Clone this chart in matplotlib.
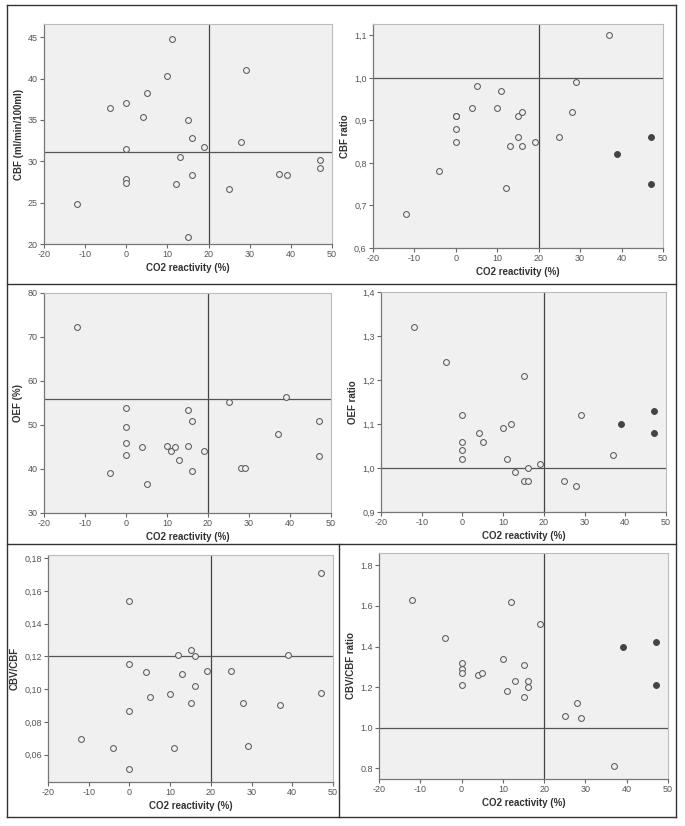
import numpy as np
import matplotlib
matplotlib.use("Agg")
from matplotlib import pyplot as plt
from matplotlib.lines import Line2D
from matplotlib.ticker import FuncFormatter

# CO2 reactivity (%) per subject, same order in every panel
co2 = [-12, -4, 0, 0, 0, 0, 4, 5, 10, 11, 12, 13, 15, 15, 16, 16, 19, 25, 28, 29, 37, 39, 47, 47]
# subjects drawn as filled dots in the ratio panels
filled = [False] * 21 + [True, True, True]

cbf = [24.8, 36.4, 37.1, 31.5, 27.9, 27.4, 35.3, 38.2, 40.3, 44.8, 27.2, 30.5,
       35.0, 20.9, 32.8, 28.4, 31.7, 26.7, 32.3, 41.0, 28.5, 28.3, 30.1, 29.2]
cbf_ratio = [0.68, 0.78, 0.91, 0.91, 0.88, 0.85, 0.93, 0.98, 0.93, 0.97, 0.74, 0.84,
             0.91, 0.86, 0.92, 0.84, 0.85, 0.86, 0.92, 0.99, 1.10, 0.82, 0.86, 0.75]
oef = [72.2, 39.2, 53.9, 49.5, 46.0, 43.2, 45.1, 36.6, 45.2, 44.0, 45.1, 42.0,
       53.5, 45.3, 51.0, 39.5, 44.0, 55.3, 40.2, 40.3, 47.9, 56.3, 50.8, 42.9]
oef_ratio = [1.32, 1.24, 1.12, 1.06, 1.04, 1.02, 1.08, 1.06, 1.09, 1.02, 1.10, 0.99,
             1.21, 0.97, 1.00, 0.97, 1.01, 0.97, 0.96, 1.12, 1.03, 1.10, 1.13, 1.08]
cbv_cbf = [0.0696, 0.0641, 0.1541, 0.1153, 0.0865, 0.0512, 0.1106, 0.0951, 0.0969, 0.0637,
           0.1208, 0.1094, 0.1239, 0.0918, 0.1204, 0.1020, 0.1108, 0.1108, 0.0918, 0.0651,
           0.0902, 0.1208, 0.1712, 0.0975]
cbv_cbf_ratio = [1.63, 1.44, 1.32, 1.29, 1.27, 1.21, 1.26, 1.27, 1.34, 1.18, 1.62, 1.23,
                 1.31, 1.15, 1.23, 1.20, 1.51, 1.06, 1.12, 1.05, 0.81, 1.40, 1.42, 1.21]

W, H = 685, 826


def box(l, r, t, b):
    return [l / W, 1 - b / H, (r - l) / W, (b - t) / H]


def comma(fmt):
    return FuncFormatter(lambda v, p: (fmt % v).replace(".", ","))


panels = [
    # y, label, axes box, ylim, yticks, formatter, hline, use filled
    (cbf, "CBF (ml/min/100ml)", box(44, 332, 24, 244), (20, 46.6), np.arange(20, 46, 5), "%d", 31.15, False),
    (cbf_ratio, "CBF ratio", box(373, 663, 24, 248), (0.6, 1.127), np.arange(0.6, 1.15, 0.1), comma("%.1f"), 1.0, True),
    (oef, "OEF (%)", box(44, 331, 293, 513), (30, 80), np.arange(30, 81, 10), "%d", 55.8, False),
    (oef_ratio, "OEF ratio", box(381, 666, 292, 512), (0.9, 1.4), np.arange(0.9, 1.45, 0.1), comma("%.1f"), 1.0, True),
    (cbv_cbf, "CBV/CBF", box(48, 333, 555, 782), (0.0432, 0.182), np.arange(0.06, 0.19, 0.02), comma("%.2f"), 0.12, False),
    (cbv_cbf_ratio, "CBV/CBF ratio", box(379, 668, 553, 779), (0.747, 1.861), np.arange(0.8, 1.85, 0.2), "%.1f", 1.0, True),
]

plt.rcParams["font.family"] = ["Liberation Sans", "DejaVu Sans"]
plt.rcParams["axes.unicode_minus"] = False
fig = plt.figure(figsize=(W / 100, H / 100), dpi=100)

for y, label, pos, ylim, yticks, fmt, hval, use_fill in panels:
    ax = fig.add_axes(pos)
    ax.set_facecolor("#f0f0f0")
    ax.axvline(20, color="#444444", lw=0.9, zorder=1)
    ax.axhline(hval, color="#555555", lw=0.9, zorder=1)
    x = np.array(co2)
    yy = np.array(y)
    mask = np.array(filled) if use_fill else np.zeros(len(x), bool)
    ax.plot(x[~mask], yy[~mask], "o", ms=4.2, mfc="#f0f0f0", mec="#5a5a5a", mew=0.75, zorder=3)
    if mask.any():
        ax.plot(x[mask], yy[mask], "o", ms=4.2, mfc="#444444", mec="#444444", mew=0.75, zorder=3)
    ax.set_xlim(-20, 50)
    ax.set_ylim(*ylim)
    ax.set_xticks(range(-20, 51, 10))
    ax.set_yticks(yticks)
    if isinstance(fmt, str):
        ax.yaxis.set_major_formatter(FuncFormatter(lambda v, p, f=fmt: f % round(v, 3)))
    else:
        ax.yaxis.set_major_formatter(fmt)
    ax.tick_params(direction="out", length=3, width=0.8, color="#666666",
                   labelsize=6.5, labelcolor="#555555", pad=1.5)
    ax.tick_params(top=False, right=False)
    for side in ["left", "bottom"]:
        ax.spines[side].set_color("#777777")
        ax.spines[side].set_linewidth(0.9)
    for side in ["top", "right"]:
        ax.spines[side].set_color("#bbbbbb")
        ax.spines[side].set_linewidth(0.8)
    ax.set_xlabel("CO2 reactivity (%)", fontsize=7, fontweight="bold", color="#333333", labelpad=3)
    ax.set_ylabel(label, fontsize=7, fontweight="bold", color="#333333", labelpad=3)

# frames around the rows
frame = dict(color="#333333", lw=1.0, transform=fig.transFigure)
xl, xr = 7 / W, 676 / W
for yp in [5, 284, 544, 817]:
    fig.add_artist(Line2D([xl, xr], [1 - yp / H] * 2, **frame))
for xp in [7, 676]:
    fig.add_artist(Line2D([xp / W] * 2, [1 - 5 / H, 1 - 817 / H], **frame))
fig.add_artist(Line2D([339 / W] * 2, [1 - 544 / H, 1 - 817 / H], **frame))

fig.savefig("out.png", dpi=100, facecolor="white")
plt.close(fig)
